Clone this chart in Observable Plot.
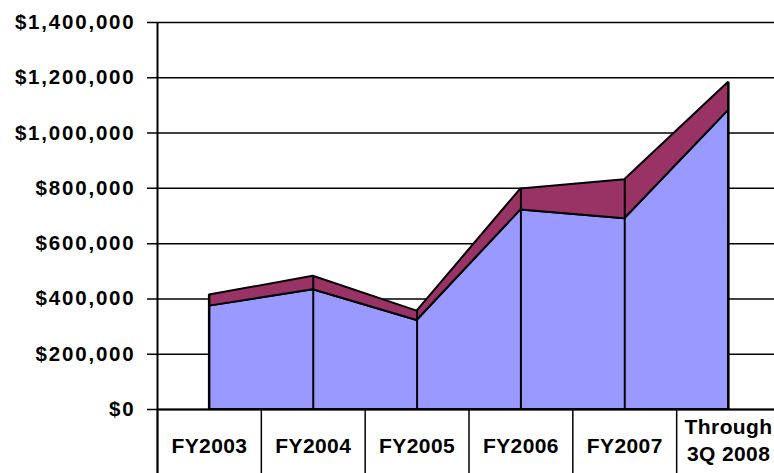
<!DOCTYPE html>
<html>
<head>
<meta charset="utf-8">
<script src="https://cdn.jsdelivr.net/npm/d3@7"></script>
<script src="https://cdn.jsdelivr.net/npm/@observablehq/plot@0.6"></script>
<style>
  html, body { margin: 0; padding: 0; background: #fff; }
  #chart svg { display: block; overflow: hidden; }
</style>
</head>
<body>
<div id="chart"></div>
<script>
// Categories (x axis, shown in the table under the plot)
const categories = ["FY2003", "FY2004", "FY2005", "FY2006", "FY2007", "Through\n3Q 2008"];
// Series names and colours
const seriesNames = ["Series 1", "Series 2"];
const seriesColors = ["#9999FF", "#993366"];
// Series values (stacked: series 1 at bottom, series 2 on top)
const series1 = [374000, 433000, 322000, 722000, 690000, 1082000];
const series2 = [40000, 49000, 34000, 76000, 141000, 102000];
// Y axis ticks and labels
const yTicks = [0, 200000, 400000, 600000, 800000, 1000000, 1200000, 1400000];
const yTickLabels = ["$0", "$200,000", "$400,000", "$600,000", "$800,000", "$1,000,000", "$1,200,000", "$1,400,000"];

const idx = categories.map((_, i) => i);
const long = [];
idx.forEach(i => {
  long.push({i, series: seriesNames[0], value: series1[i]});
  long.push({i, series: seriesNames[1], value: series2[i]});
});
const totals = idx.map(i => ({i, total: series1[i] + series2[i]}));
const separators = idx.map(i => i - 0.5);
const yLab = yTicks.map((v, k) => ({v, label: yTickLabels[k]}));
const catRows = categories.map((c, i) => ({i, label: c}));
const singleRows = catRows.filter(d => !d.label.includes("\n"));
const multiRows = catRows.filter(d => d.label.includes("\n"));

const chart = Plot.plot({
  width: 774,
  height: 473,
  marginTop: 22,
  marginBottom: 64,
  marginLeft: 157,
  marginRight: 0,
  x: {domain: [-0.5, categories.length - 0.5], range: [157, 780], axis: null},
  y: {domain: [0, 1400000], axis: null},
  color: {domain: seriesNames, range: seriesColors},
  style: {
    fontFamily: "'Liberation Sans', Arial, sans-serif",
    fontWeight: "bold",
    fontSize: "20.5px",
    color: "black",
    background: "white",
    overflow: "hidden"
  },
  marks: [
    // gridlines (extended left as tick marks)
    Plot.ruleY(yTicks, {y: d => d, x1: -0.5, x2: categories.length - 0.5, stroke: "black", strokeWidth: 1.5, insetLeft: -10}),
    // stacked areas
    Plot.areaY(long, {x: "i", y: "value", fill: "series", z: "series", stroke: "black", strokeWidth: 2, strokeLinejoin: "miter"}),
    // drop lines
    Plot.ruleX(totals, {x: "i", y1: 0, y2: "total", stroke: "black", strokeWidth: 2}),
    // table separators below the axis
    Plot.ruleX(separators, {x: d => d, y1: 0, y2: 0, insetBottom: -64, stroke: "black", strokeWidth: 1.5}),
    // left axis line (through table)
    Plot.ruleX([-0.5], {x: d => d, stroke: "black", strokeWidth: 2, insetBottom: -64}),
    // bottom axis line
    Plot.ruleY([0], {y: d => d, x1: -0.5, x2: categories.length - 0.5, stroke: "black", strokeWidth: 2}),
    // y tick labels
    Plot.text(yLab, {y: "v", text: "label", frameAnchor: "left", textAnchor: "end", dx: -22, fill: "black"}),
    // category labels
    Plot.text(singleRows, {x: "i", y: () => 0, text: "label", dy: 37, fontSize: 21, fill: "black"}),
    Plot.text(multiRows, {x: "i", y: () => 0, text: "label", dy: 29, fontSize: 21, lineHeight: 1.31, fill: "black"})
  ]
});

chart.querySelectorAll("text").forEach(t => {
  const s = t.textContent.trim();
  if (s.startsWith("$")) t.style.letterSpacing = "1.8px";
  else t.style.letterSpacing = "0.4px";
});
document.getElementById("chart").appendChild(chart);
</script>
</body>
</html>
